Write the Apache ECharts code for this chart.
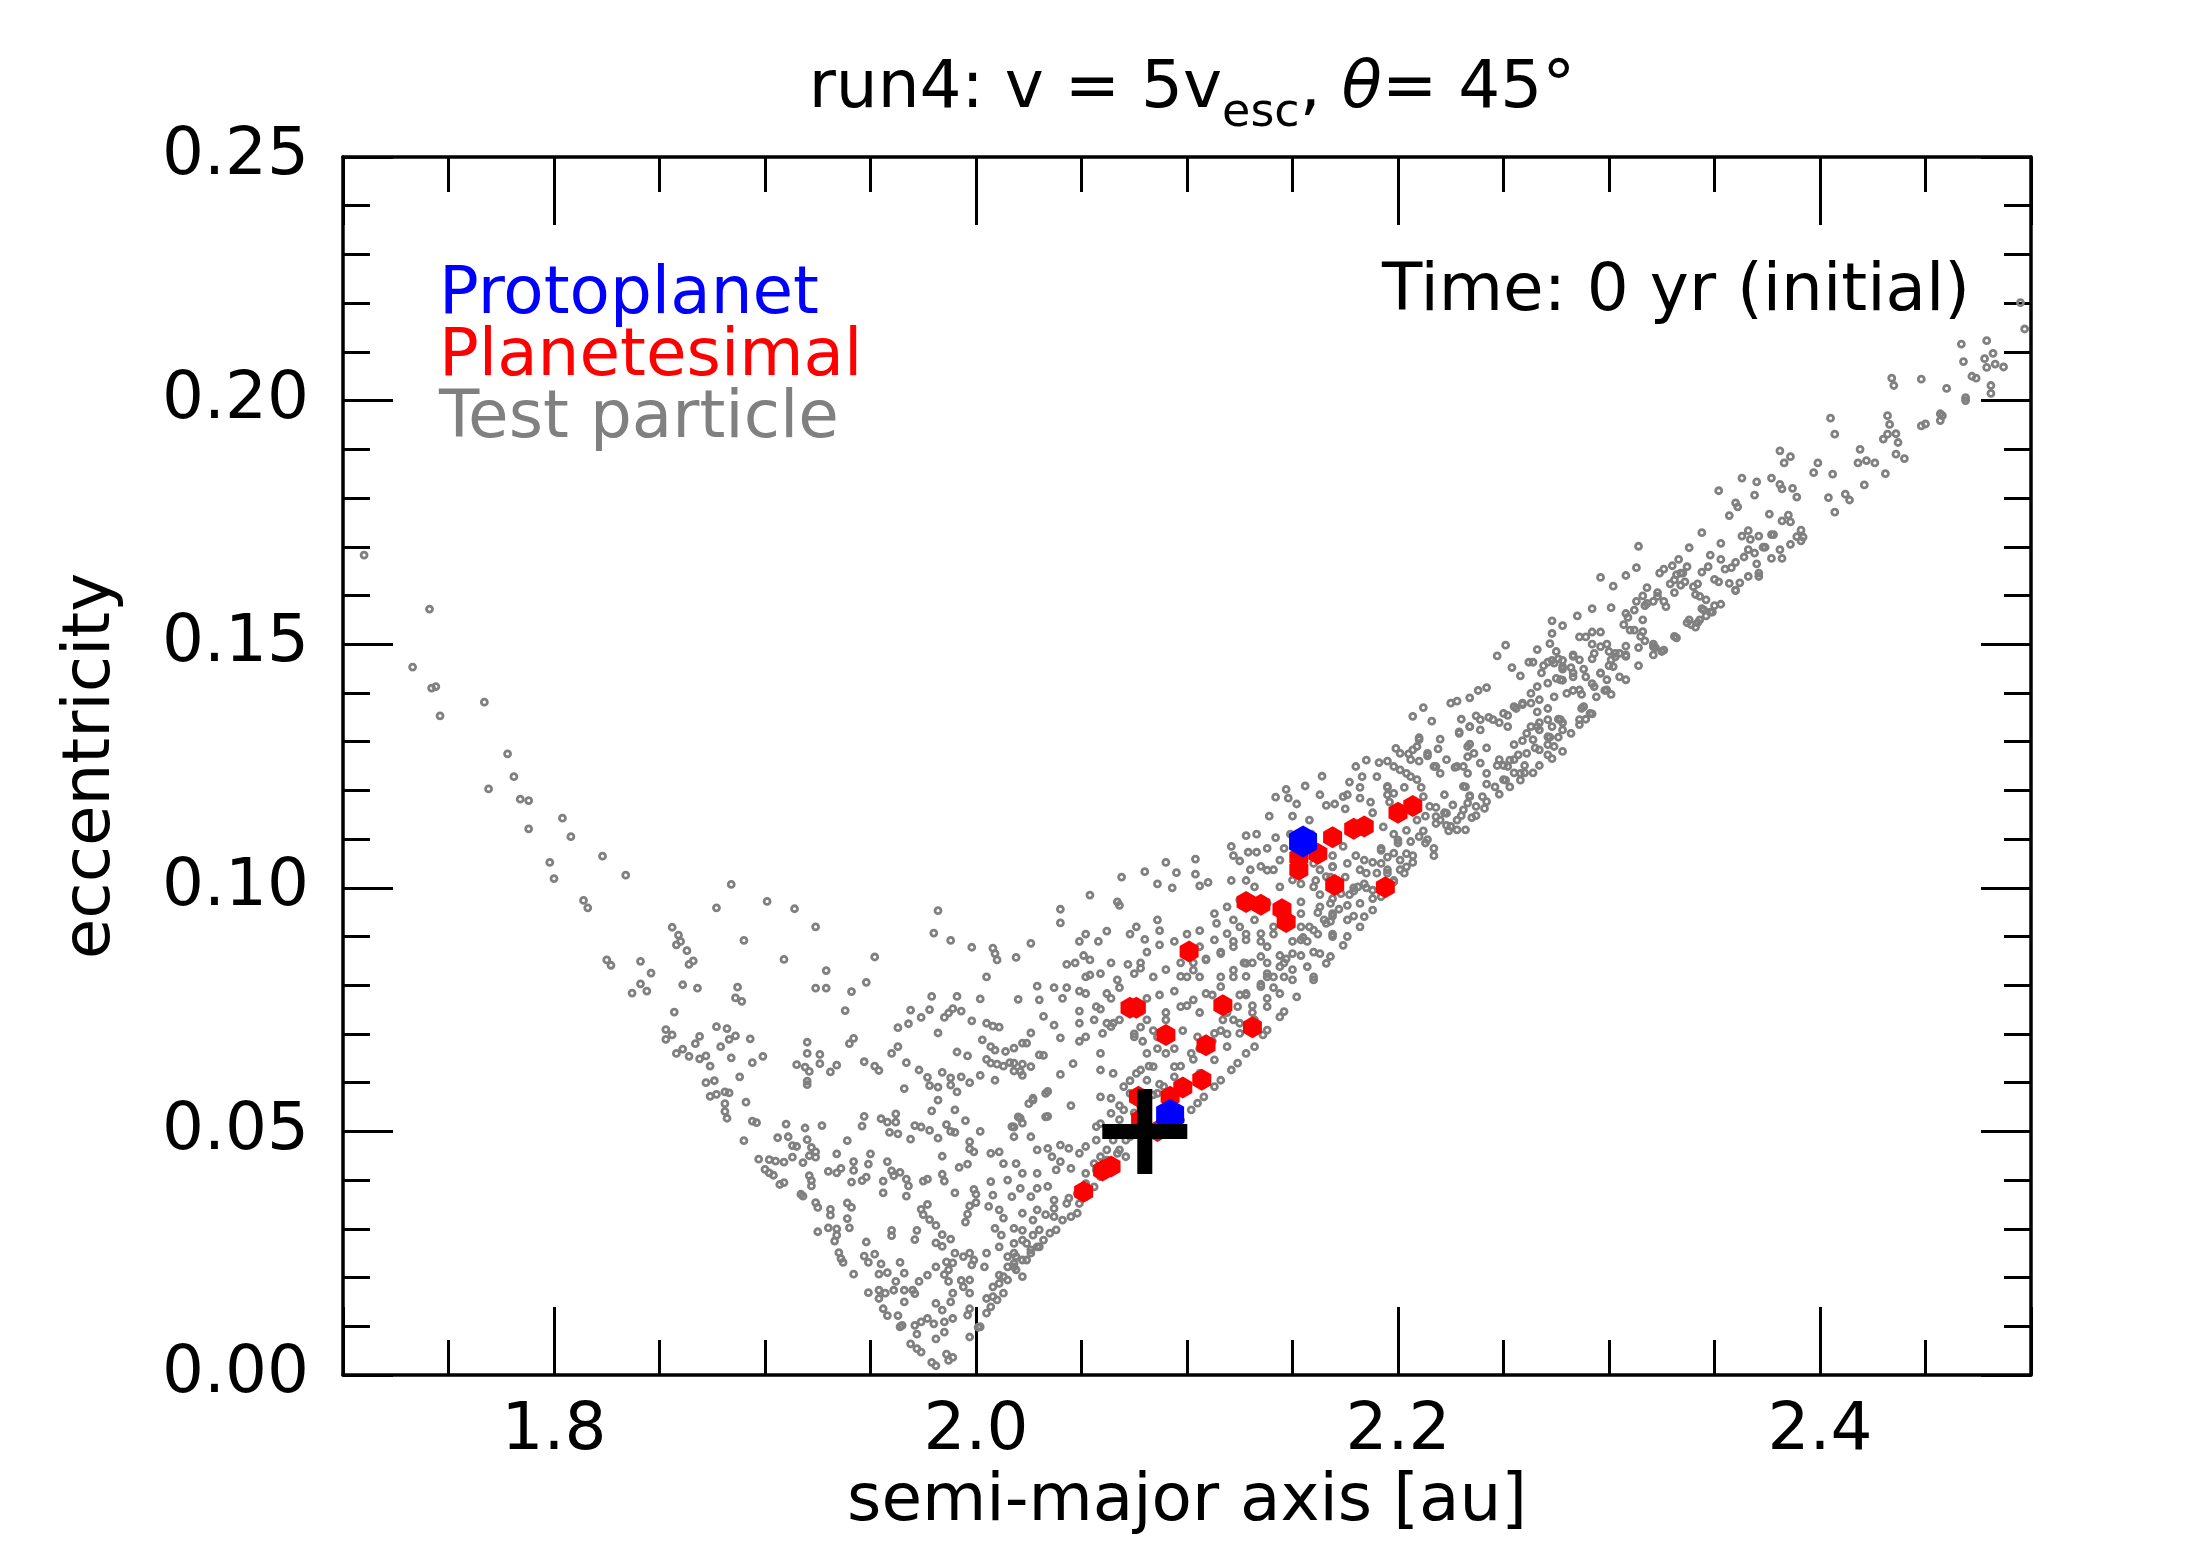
<!DOCTYPE html>
<html>
<head>
<meta charset="utf-8">
<title>run4 eccentricity vs semi-major axis</title>
<script src="https://cdn.jsdelivr.net/npm/echarts@6.0.0/dist/echarts.min.js"></script>
<style>
  html, body { margin: 0; padding: 0; background: #fff; }
  #chart { width: 2188px; height: 1563px; }
</style>
</head>
<body>
<div id="chart"></div>
<script>
// values: [semi-major axis (au), eccentricity]
const protoplanet = [[2.155, 0.1095], [2.092, 0.0534]];

const planetesimal = [
  [2.207,0.1168],[2.200,0.1154],[2.184,0.1126],[2.179,0.1121],[2.169,0.1104],[2.162,0.1070],
  [2.153,0.1062],[2.153,0.1037],[2.170,0.1006],[2.194,0.1001],[2.128,0.0971],[2.135,0.0965],
  [2.145,0.0956],[2.147,0.0930],[2.101,0.0869],[2.073,0.0754],[2.076,0.0754],[2.117,0.0759],
  [2.131,0.0714],[2.090,0.0698],[2.109,0.0677],[2.107,0.0606],[2.098,0.0590],[2.092,0.0571],
  [2.077,0.0571],[2.086,0.0501],[2.078,0.0525],[2.064,0.0428],[2.060,0.0420],[2.051,0.0376]
];

// initial target location (black cross)
const target = [[2.080, 0.0500]];

// test particles, split by region of the plot
const testLeftArm = [
  [1.710,0.1683],[1.741,0.1572],[1.733,0.1453],[1.742,0.1410],[1.744,0.1413],[1.746,0.1353],
  [1.767,0.1381],[1.778,0.1275],[1.781,0.1228],[1.769,0.1203],[1.784,0.1182],[1.788,0.1179],
  [1.788,0.1121],[1.804,0.1143],[1.808,0.1105],[1.798,0.1052],[1.800,0.1019],[1.814,0.0974],
  [1.816,0.0959],
  [1.823,0.1065],[1.834,0.1026],[1.884,0.1007],[1.877,0.0959],[1.901,0.0972],[1.914,0.0957],
  [1.924,0.0920],[1.856,0.0919],[1.859,0.0903],[1.860,0.0890],[1.858,0.0883],[1.863,0.0871],
  [1.864,0.0843],[1.866,0.0850],[1.890,0.0892],[1.909,0.0853],[1.952,0.0858],[1.929,0.0830],
  [1.825,0.0852],[1.827,0.0841],[1.841,0.0849],[1.846,0.0825],[1.841,0.0803],[1.837,0.0784],
  [1.844,0.0788],[1.861,0.0801],[1.868,0.0794],[1.887,0.0796],[1.886,0.0774],[1.889,0.0767],
  [1.924,0.0794],[1.929,0.0794],[1.941,0.0787],[1.948,0.0806],[1.938,0.0748],
  [1.857,0.0745],[1.853,0.0709],[1.856,0.0698],[1.853,0.0689],[1.858,0.0660],[1.861,0.0669],
  [1.864,0.0654],[1.869,0.0649],[1.872,0.0655],[1.874,0.0634],[1.867,0.0680],[1.869,0.0695],
  [1.877,0.0715],[1.882,0.0711],[1.879,0.0674],[1.883,0.0689],[1.886,0.0696],[1.893,0.0690],
  [1.884,0.0651],[1.894,0.0641],[1.899,0.0654],[1.888,0.0612],[1.872,0.0600],[1.876,0.0604],
  [1.874,0.0572],[1.877,0.0576],[1.881,0.0581],[1.883,0.0579],[1.881,0.0557],[1.881,0.0541],
  [1.882,0.0527],[1.891,0.0560],[1.894,0.0521],[1.896,0.0518],[1.890,0.0481]
];

const testValley = [
  [1.982,0.0953],[1.980,0.0907],[1.988,0.0892],[1.998,0.0878],[2.008,0.0876],[2.009,0.0865],
  [2.010,0.0852],[2.019,0.0857],[2.026,0.0886],[2.005,0.0817],[2.029,0.0798],[2.030,0.0770],
  [2.002,0.0772],[2.020,0.0771],[1.979,0.0777],[1.991,0.0777],
  [1.969,0.0749],[1.974,0.0734],[1.978,0.0750],[1.985,0.0734],[1.987,0.0743],[1.989,0.0752],
  [1.993,0.0747],[1.998,0.0727],[1.982,0.0702],[1.963,0.0713],[1.968,0.0721],[2.005,0.0722],
  [2.008,0.0716],[2.011,0.0714],[2.032,0.0736],
  [1.920,0.0683],[1.920,0.0660],[1.915,0.0637],[1.919,0.0632],[1.921,0.0623],[1.920,0.0603],
  [1.920,0.0596],[1.926,0.0658],[1.926,0.0639],[1.931,0.0622],[1.934,0.0636],[1.940,0.0680],
  [1.942,0.0691],[1.947,0.0643],[1.952,0.0634],[1.954,0.0625],[1.960,0.0660],[1.963,0.0674],
  [1.967,0.0641],[1.973,0.0626],[1.977,0.0611],[1.978,0.0594],[1.982,0.0591],[1.984,0.0621],
  [1.988,0.0610],[1.988,0.0595],[1.991,0.0581],[1.993,0.0612],[1.997,0.0600],[2.002,0.0615],
  [2.009,0.0605],[1.991,0.0663],[1.996,0.0655],[2.003,0.0688],[2.007,0.0674],[2.009,0.0667],
  [2.005,0.0648],[2.007,0.0640],[2.010,0.0638],[2.013,0.0634],[2.014,0.0664],[2.018,0.0671],
  [2.018,0.0640],[2.018,0.0624],[2.022,0.0615],[2.022,0.0638],[2.026,0.0633],[2.024,0.0681],
  [2.026,0.0702],[2.030,0.0657],
  [1.966,0.0588],[1.982,0.0564],[1.979,0.0542],[1.990,0.0544],[1.995,0.0522],[1.947,0.0531],
  [1.946,0.0511],[1.955,0.0526],[1.958,0.0519],[1.962,0.0536],[1.963,0.0495],[1.969,0.0484],
  [1.971,0.0512],[1.974,0.0509],[1.978,0.0502],[1.982,0.0486],[1.986,0.0514],[1.988,0.0500],
  [1.990,0.0498],[1.997,0.0479],[2.002,0.0500],[1.997,0.0464],[1.984,0.0449],[1.992,0.0426],
  [1.996,0.0433],[1.999,0.0458],[1.959,0.0498],[1.962,0.0519],
  [2.020,0.0530],[2.025,0.0557],[2.027,0.0564],[2.033,0.0530],[2.033,0.0578],
  [1.910,0.0515],[1.906,0.0487],[1.911,0.0489],[1.919,0.0507],[1.920,0.0483],[1.915,0.0469],
  [1.913,0.0471],[1.927,0.0512],[1.939,0.0481],[1.922,0.0467],[1.924,0.0458],[1.921,0.0450],
  [1.924,0.0447],[1.918,0.0436],[1.913,0.0447],[1.897,0.0443],[1.902,0.0442],[1.905,0.0439],
  [1.909,0.0437],[1.900,0.0422],[1.902,0.0415],[1.904,0.0410],[1.907,0.0391],[1.909,0.0395],
  [1.934,0.0454],[1.942,0.0438],[1.942,0.0420],[1.936,0.0424],[1.934,0.0415],[1.930,0.0418],
  [1.921,0.0409],[1.922,0.0399],[1.922,0.0388],[1.941,0.0396],[1.950,0.0454],[1.949,0.0433],
  [1.948,0.0406],[1.946,0.0399],[1.958,0.0438],[1.960,0.0419],[1.961,0.0409],[1.964,0.0416],
  [1.967,0.0402],[1.968,0.0388],[1.956,0.0398],[1.956,0.0374],[1.967,0.0367],[1.975,0.0398],
  [1.977,0.0402],[1.984,0.0412],[1.985,0.0398],[1.990,0.0374],[1.917,0.0371],[1.918,0.0367],
  [1.924,0.0354],[1.925,0.0344],[1.931,0.0340],[1.931,0.0328],[1.939,0.0353],[1.941,0.0344],
  [1.939,0.0321],[1.925,0.0294],[1.930,0.0302],[1.934,0.0300],[1.940,0.0302],[1.934,0.0287],
  [1.933,0.0275],[1.935,0.0251],[1.936,0.0239],[1.937,0.0231],[1.942,0.0207],[1.948,0.0273],
  [1.947,0.0244],[1.952,0.0248],[1.949,0.0231],[1.955,0.0228],[1.954,0.0207],[1.958,0.0210],
  [1.964,0.0231],[1.966,0.0209],[1.960,0.0297],[1.960,0.0286],[1.972,0.0297],[1.971,0.0278],
  [1.974,0.0340],[1.977,0.0350],[1.975,0.0329],[1.978,0.0319],[1.981,0.0307],[1.984,0.0288],
  [1.981,0.0271],[1.984,0.0264],[1.988,0.0279],[1.999,0.0381],[2.000,0.0371],[2.000,0.0354],
  [1.997,0.0347],[1.996,0.0330],[1.995,0.0314],
  [1.990,0.0250],[1.994,0.0243],[1.997,0.0250],[1.999,0.0236],[1.998,0.0226],[1.989,0.0230],
  [1.986,0.0232],[1.987,0.0216],[1.985,0.0206],[1.987,0.0192],[1.993,0.0194],[1.997,0.0195],
  [1.994,0.0181],[1.997,0.0168],[1.989,0.0168],[1.988,0.0150],[1.981,0.0147],[1.984,0.0133],
  [1.989,0.0116],[1.985,0.0109],[1.980,0.0105],[1.977,0.0116],[1.974,0.0109],[1.971,0.0102],
  [1.972,0.0084],[1.981,0.0074],[1.985,0.0088],[1.997,0.0136],[1.996,0.0123],[1.997,0.0078],
  [2.001,0.0098],[1.969,0.0064],[1.972,0.0054],[1.974,0.0047],[1.979,0.0026],[1.981,0.0019],
  [1.986,0.0043],[1.989,0.0036],[1.987,0.0030],[1.964,0.0099],[1.965,0.0102],
  [1.949,0.0169],[1.954,0.0174],[1.954,0.0157],[1.957,0.0168],[1.961,0.0174],[1.962,0.0192],
  [1.966,0.0174],[1.966,0.0150],[1.970,0.0174],[1.971,0.0167],[1.973,0.0192],[1.977,0.0205],
  [1.981,0.0222],[1.956,0.0136],[1.958,0.0122],[1.963,0.0122]
];

const testBandLow = [
  [2.002,0.0099],[2.005,0.0127],[2.007,0.0140],[2.010,0.0154],[2.005,0.0157],[2.008,0.0181],
  [2.013,0.0202],[2.015,0.0195],[2.019,0.0216],[2.022,0.0202],[2.018,0.0229],[2.022,0.0236],
  [2.026,0.0250],[2.029,0.0263],[2.032,0.0277],[2.035,0.0291],[2.038,0.0298],[2.041,0.0318],
  [2.045,0.0325],[2.048,0.0332],[2.049,0.0352],[2.052,0.0366],[2.056,0.0386],[2.059,0.0407],
  [2.052,0.0414],[2.056,0.0434],[2.059,0.0448],[2.049,0.0455],[2.052,0.0469],[2.057,0.0482],
  [2.062,0.0462],[2.068,0.0462],[2.071,0.0448],[2.065,0.0482],[2.073,0.0489],
  [2.017,0.0510],[2.022,0.0517],[2.018,0.0489],[2.026,0.0489],[2.007,0.0455],[2.011,0.0458],
  [2.013,0.0434],[2.019,0.0434],[2.029,0.0462],[2.034,0.0465],[2.040,0.0472],[2.044,0.0465],
  [2.036,0.0448],[2.040,0.0438],[2.038,0.0421],[2.045,0.0424],[2.022,0.0414],[2.029,0.0414],
  [2.007,0.0397],[2.015,0.0400],[2.021,0.0383],[2.029,0.0383],[2.034,0.0387],[2.008,0.0369],
  [2.017,0.0366],[2.026,0.0366],[2.037,0.0359],[2.044,0.0363],[2.006,0.0346],[2.011,0.0339],
  [2.022,0.0332],[2.029,0.0339],[2.037,0.0342],[2.013,0.0322],[2.027,0.0318],[2.033,0.0329],
  [2.009,0.0301],[2.018,0.0301],[2.022,0.0297],[2.027,0.0287],[2.012,0.0287],[2.011,0.0263],
  [2.018,0.0270],[2.022,0.0277],[2.026,0.0257],[2.030,0.0263],[2.005,0.0250],[2.018,0.0250],
  [2.015,0.0243],[2.024,0.0236],[2.004,0.0222],[2.011,0.0205],[2.018,0.0222],[2.013,0.0168],
  [2.030,0.0298],[2.037,0.0325],[2.043,0.0352],[2.048,0.0373],[2.052,0.0393],[2.057,0.0421],
  [2.062,0.0441],[2.067,0.0455],[2.024,0.0270],[2.019,0.0243],[2.015,0.0222],[2.011,0.0188],
  [2.008,0.0161],
  [2.027,0.0568],[2.034,0.0582],[2.034,0.0531],[2.018,0.0509],[2.021,0.0527],[2.022,0.0681],
  [2.032,0.0656],[2.021,0.0623],[2.016,0.0641],
  [2.045,0.0553],[2.064,0.0568],[2.059,0.0516],[2.068,0.0553],[2.073,0.0604],[2.075,0.0575],
  [2.078,0.0626],
  [2.112,0.0685],[2.103,0.0648],[2.094,0.0612],[2.084,0.0575],[2.075,0.0538],[2.116,0.0707],
  [2.106,0.0670],[2.097,0.0634],[2.087,0.0597],[2.078,0.0560],[2.068,0.0524],
  [2.082,0.0634],[2.086,0.0670],[2.079,0.0685],[2.078,0.0714],[2.075,0.0700],[2.084,0.0707],
  [2.094,0.0670],[2.098,0.0707],[2.090,0.0744],[2.100,0.0758],[2.106,0.0744],[2.112,0.0780],
  [2.106,0.0817],[2.100,0.0817],[2.094,0.0788],[2.087,0.0780],[2.081,0.0773],[2.084,0.0817],
  [2.090,0.0832],[2.097,0.0846],[2.103,0.0846],[2.109,0.0854],[2.116,0.0817],[2.122,0.0817],
  [2.125,0.0780],[2.116,0.0868],[2.122,0.0890],[2.128,0.0905],[2.135,0.0890],[2.141,0.0905],
  [2.144,0.0861],[2.138,0.0846],[2.131,0.0846],[2.127,0.0846],[2.135,0.0802],[2.141,0.0817],
  [2.122,0.0934],[2.114,0.0927],[2.106,0.0912],[2.100,0.0905],[2.094,0.0890],[2.087,0.0883],
  [2.081,0.0868],[2.078,0.0846],[2.075,0.0824],
  [2.054,0.0985],[2.040,0.0956],[2.040,0.0928],[2.049,0.0890],[2.052,0.0905],[2.058,0.0890],
  [2.062,0.0911],[2.069,0.1022],[2.080,0.1033],[2.090,0.1052],[2.095,0.1031],[2.104,0.1059],
  [2.104,0.1028],[2.086,0.1008],[2.093,0.1000],[2.106,0.1004],[2.110,0.1011],[2.121,0.1015],
  [2.067,0.0971],[2.068,0.0964],[2.076,0.0920],[2.073,0.0905],[2.080,0.0894],[2.086,0.0934],
  [2.087,0.0912],[2.043,0.0843],[2.047,0.0846],[2.051,0.0861],[2.064,0.0846],[2.072,0.0843],
  [2.078,0.0835],[2.037,0.0795],[2.043,0.0795],[2.049,0.0788],[2.052,0.0817],[2.054,0.0821],
  [2.041,0.0773],[2.049,0.0747],[2.059,0.0751],[2.064,0.0773],[2.068,0.0795],[2.037,0.0718],
  [2.049,0.0722],[2.062,0.0722],[2.040,0.0692],[2.049,0.0685],[2.040,0.0617],[2.046,0.0639],
  [2.059,0.0626],
  [2.054,0.0852],[2.059,0.0824],[2.052,0.0783],[2.057,0.0756],[2.062,0.0783],[2.067,0.0811],
  [2.056,0.0729],[2.060,0.0701],[2.065,0.0722],[2.052,0.0694],[2.059,0.0660],[2.065,0.0619],
  [2.070,0.0592],[2.059,0.0571],[2.064,0.0537],[2.057,0.0510],[2.065,0.0503],[2.071,0.0482]
];

const testBandMid = [
  [2.207,0.1352],[2.212,0.1370],[2.216,0.1342],[2.220,0.1305],[2.219,0.1285],[2.210,0.1308],
  [2.209,0.1290],[2.199,0.1286],[2.205,0.1275],[2.210,0.1260],[2.214,0.1271],[2.218,0.1249],
  [2.195,0.1260],[2.191,0.1257],[2.185,0.1262],[2.180,0.1249],[2.183,0.1228],[2.177,0.1217],
  [2.176,0.1191],[2.182,0.1206],[2.190,0.1228],[2.195,0.1206],[2.201,0.1242],[2.206,0.1228],
  [2.211,0.1206],[2.203,0.1206],[2.222,0.1191],[2.218,0.1165],[2.213,0.1147],[2.212,0.1117],
  [2.218,0.1132],[2.224,0.1117],
  [2.164,0.1229],[2.156,0.1209],[2.147,0.1202],[2.148,0.1184],[2.142,0.1186],[2.152,0.1172],
  [2.139,0.1147],[2.150,0.1147],[2.158,0.1139],[2.163,0.1191],[2.166,0.1169],[2.170,0.1172],
  [2.174,0.1187],[2.175,0.1162],[2.182,0.1184],[2.187,0.1176],[2.188,0.1154],[2.196,0.1176],
  [2.195,0.1191],
  [2.128,0.1107],[2.133,0.1110],[2.142,0.1103],[2.121,0.1085],[2.125,0.1055],[2.122,0.1066],
  [2.129,0.1073],[2.133,0.1073],[2.138,0.1081],[2.146,0.1081],[2.149,0.1110],[2.159,0.1110],
  [2.180,0.1066],[2.174,0.1085],[2.169,0.1066],[2.169,0.1044],[2.175,0.1022],[2.168,0.1022],
  [2.163,0.1037],[2.161,0.1015],[2.154,0.1008],[2.141,0.1037],[2.135,0.1044],[2.130,0.1037],
  [2.128,0.1015],
  [2.192,0.1081],[2.200,0.1092],[2.206,0.1095],[2.213,0.1092],[2.217,0.1066],[2.207,0.1066],
  [2.195,0.1063],[2.201,0.1037],[2.190,0.1030],[2.184,0.1008],[2.179,0.1000],[2.177,0.0986],
  [2.172,0.0956],[2.168,0.0931],[2.162,0.0949],[2.154,0.0971],[2.163,0.0986],[2.158,0.0920],
  [2.155,0.0898],
  [2.122,0.0729],[2.131,0.0758],[2.141,0.0795],[2.150,0.0832],[2.160,0.0868],[2.169,0.0905],
  [2.179,0.0942],[2.188,0.0978],[2.198,0.1015],[2.207,0.1052],[2.217,0.1081],
  [2.119,0.0744],[2.128,0.0780],[2.138,0.0817],[2.147,0.0854],[2.157,0.0890],[2.166,0.0927],
  [2.176,0.0964],[2.185,0.1000],[2.195,0.1037],[2.204,0.1070],[2.214,0.1099],[2.223,0.1128],
  [2.170,0.1110],[2.193,0.1125],[2.209,0.1139],[2.222,0.1154],[2.198,0.1110],[2.182,0.1037],
  [2.188,0.1052],[2.169,0.0978],[2.179,0.0993],[2.154,0.0920],[2.150,0.0890],[2.162,0.0905],
  [2.169,0.0942],[2.146,0.0846],[2.154,0.0861],[2.138,0.0773],[2.131,0.0744],[2.146,0.0817],
  [2.125,0.0722],[2.119,0.0700]
];

// extra particles in the densest part of the band near the planetesimals
const testBandCore = [
  [2.102,0.0544],[2.108,0.0571],[2.116,0.0605],[2.124,0.0640],[2.132,0.0674],[2.138,0.0708],
  [2.146,0.0746],[2.152,0.0776],[2.160,0.0811],[2.166,0.0845],[2.174,0.0882],[2.182,0.0920],
  [2.188,0.0954],[2.196,0.0995],[2.203,0.1030],
  [2.094,0.0551],[2.100,0.0592],[2.106,0.0619],[2.113,0.0647],[2.119,0.0674],[2.125,0.0701],
  [2.132,0.0729],[2.138,0.0756],[2.144,0.0783],[2.150,0.0811],[2.157,0.0838],[2.163,0.0865],
  [2.169,0.0900],[2.176,0.0934],[2.182,0.0968],[2.188,0.0995],[2.195,0.1030],[2.201,0.1057],
  [2.089,0.0592],[2.094,0.0633],[2.102,0.0660],[2.105,0.0694],[2.113,0.0701],[2.117,0.0729],
  [2.124,0.0756],[2.128,0.0783],[2.135,0.0797],[2.138,0.0824],[2.144,0.0838],[2.150,0.0865],
  [2.154,0.0893],[2.160,0.0913],[2.165,0.0934],[2.168,0.0968],[2.173,0.0988],[2.181,0.1002],
  [2.185,0.1030],[2.192,0.1050],[2.198,0.1071],
  [2.097,0.0818],[2.103,0.0831],[2.109,0.0852],[2.116,0.0865],[2.122,0.0879],[2.128,0.0893],
  [2.135,0.0906],[2.141,0.0920],[2.147,0.0934],[2.154,0.0947],[2.122,0.0831],[2.128,0.0845],
  [2.135,0.0859],[2.116,0.0797],[2.109,0.0783],[2.103,0.0770],[2.097,0.0756],[2.090,0.0729],
  [2.128,0.0818],[2.138,0.0879],[2.132,0.0934],[2.125,0.0920],[2.119,0.0906],[2.113,0.0893],
  [2.106,0.0879],[2.138,0.0968],[2.144,0.1002],[2.150,0.1016],[2.132,0.1002],[2.125,0.0975],
  [2.119,0.0961],[2.113,0.0947],[2.160,0.1002],[2.166,0.1023],[2.138,0.1036],[2.144,0.1057],
  [2.081,0.0729],[2.086,0.0694],[2.081,0.0660],[2.076,0.0619],[2.081,0.0605],[2.086,0.0578],
  [2.073,0.0578],[2.078,0.0551],[2.070,0.0544],[2.084,0.0633],[2.090,0.0660],[2.075,0.0694],
  [2.068,0.0729],[2.064,0.0715],
  [2.160,0.1050],[2.169,0.1043],[2.176,0.1050],[2.184,0.1057],[2.192,0.1077],[2.200,0.1098],
  [2.204,0.1118],[2.163,0.0961],[2.169,0.0947],
  [2.097,0.0523],[2.113,0.0592],[2.128,0.0660],[2.144,0.0735],[2.160,0.0817],[2.176,0.0900],
  [2.192,0.0982],[2.204,0.1043],[2.105,0.0558],[2.121,0.0626],[2.136,0.0698],[2.168,0.0859],
  [2.184,0.0941],[2.198,0.1012]
];

const testBandHigh = [
  [2.495,0.2201],[2.497,0.2147],[2.467,0.2116],[2.479,0.2123],[2.468,0.2080],[2.478,0.2086],
  [2.482,0.2097],[2.479,0.2068],[2.483,0.2075],[2.487,0.2069],[2.434,0.2046],[2.435,0.2031],
  [2.448,0.2044],[2.460,0.2025],[2.472,0.2050],[2.474,0.2046],[2.481,0.2031],[2.481,0.2015],
  [2.469,0.2006],[2.469,0.2000],[2.432,0.1969],[2.433,0.1951],[2.430,0.1921],[2.432,0.1931],
  [2.436,0.1932],[2.437,0.1914],[2.448,0.1948],[2.450,0.1952],[2.457,0.1973],[2.458,0.1969],
  [2.457,0.1959],[2.436,0.1890],[2.440,0.1881],[2.405,0.1964],[2.407,0.1931],[2.381,0.1897],
  [2.386,0.1885],[2.383,0.1872],[2.399,0.1872],[2.397,0.1852],[2.406,0.1849],[2.419,0.1900],
  [2.418,0.1872],[2.422,0.1877],[2.426,0.1872],[2.431,0.1850],[2.421,0.1827],[2.404,0.1801],
  [2.407,0.1771],[2.412,0.1808],[2.414,0.1796],[2.352,0.1815],[2.363,0.1841],[2.370,0.1833],
  [2.369,0.1806],[2.377,0.1841],[2.381,0.1828],[2.382,0.1819],[2.387,0.1820],[2.389,0.1802],
  [2.360,0.1790],[2.361,0.1782],[2.357,0.1764],[2.376,0.1767],[2.382,0.1753],[2.385,0.1765],
  [2.386,0.1751],[2.391,0.1734],[2.392,0.1720],[2.389,0.1721],[2.344,0.1729],[2.353,0.1707],
  [2.348,0.1683],[2.353,0.1674],[2.363,0.1722],[2.366,0.1733],[2.367,0.1715],[2.371,0.1722],
  [2.374,0.1699],[2.377,0.1725],[2.378,0.1725],[2.373,0.1699],
  [2.386,0.1705],[2.381,0.1694],[2.377,0.1676],[2.369,0.1687],[2.366,0.1694],[2.364,0.1679],
  [2.360,0.1668],[2.358,0.1657],[2.355,0.1654],[2.370,0.1665],[2.371,0.1646],[2.366,0.1639],
  [2.362,0.1626],[2.360,0.1611],[2.357,0.1625],[2.352,0.1628],[2.353,0.1582],[2.350,0.1633],
  [2.338,0.1698],[2.333,0.1674],[2.330,0.1661],[2.324,0.1646],[2.326,0.1654],[2.332,0.1643],
  [2.335,0.1646],[2.336,0.1628],[2.329,0.1624],[2.334,0.1621],[2.331,0.1606],[2.314,0.1701],
  [2.313,0.1657],[2.308,0.1641],[2.302,0.1619],[2.296,0.1637],
  [2.347,0.1659],[2.344,0.1648],[2.342,0.1624],[2.341,0.1602],[2.346,0.1591],[2.350,0.1579],
  [2.344,0.1573],[2.348,0.1566],[2.346,0.1558],[2.342,0.1544],[2.337,0.1544],[2.341,0.1535],
  [2.332,0.1513],
  [2.318,0.1616],[2.323,0.1606],[2.326,0.1588],[2.321,0.1588],[2.316,0.1599],[2.313,0.1588],
  [2.317,0.1579],[2.312,0.1570],[2.309,0.1555],[2.307,0.1540],[2.310,0.1529],[2.316,0.1526],
  [2.317,0.1507],[2.322,0.1493],[2.325,0.1485],[2.321,0.1500],[2.314,0.1493],[2.308,0.1496],
  [2.303,0.1474],[2.300,0.1456],[2.296,0.1441],
  [2.301,0.1575],[2.292,0.1573],[2.285,0.1558],[2.286,0.1515],[2.289,0.1515],[2.292,0.1525],
  [2.296,0.1525],[2.292,0.1500],[2.299,0.1500],[2.300,0.1485],[2.303,0.1481],[2.308,0.1478],
  [2.283,0.1478],[2.278,0.1467],[2.292,0.1470],[2.288,0.1449],[2.283,0.1441],[2.278,0.1449],
  [2.273,0.1467],[2.275,0.1485],[2.282,0.1452],[2.273,0.1548],[2.273,0.1522],[2.272,0.1501],
  [2.278,0.1538],
  [2.247,0.1476],[2.251,0.1498],[2.254,0.1452],[2.258,0.1435],[2.264,0.1463],[2.266,0.1489],
  [2.262,0.1463],[2.269,0.1456],[2.271,0.1463],[2.276,0.1470],[2.268,0.1441],[2.275,0.1430],
  [2.278,0.1426],[2.283,0.1405],[2.287,0.1397],[2.292,0.1419],[2.298,0.1405],[2.287,0.1368],
  [2.289,0.1346],[2.292,0.1357],[2.286,0.1335],
  [2.238,0.1405],[2.242,0.1411],[2.225,0.1379],[2.228,0.1383],[2.234,0.1390],
  [2.243,0.1350],[2.248,0.1339],[2.252,0.1354],[2.256,0.1368],[2.259,0.1376],[2.263,0.1379],
  [2.266,0.1361],[2.271,0.1368],[2.267,0.1339],[2.273,0.1331],[2.276,0.1346],[2.278,0.1324],
  [2.272,0.1309],[2.267,0.1324],[2.263,0.1331],[2.259,0.1302],[2.255,0.1294],[2.265,0.1287],
  [2.271,0.1294],[2.276,0.1309],[2.278,0.1339],
  [2.230,0.1346],[2.234,0.1331],[2.229,0.1320],[2.237,0.1353],[2.239,0.1324],[2.234,0.1295],
  [2.233,0.1269],[2.227,0.1247],[2.231,0.1249],[2.242,0.1287],
  [2.232,0.1207],[2.234,0.1189],[2.233,0.1174],[2.230,0.1148],[2.226,0.1170],[2.225,0.1126],
  [2.228,0.1119],[2.235,0.1144],[2.237,0.1148],
  [2.242,0.1213],[2.247,0.1251],[2.250,0.1251],[2.253,0.1262],[2.257,0.1273],[2.260,0.1251],
  [2.255,0.1236],[2.251,0.1221],[2.246,0.1207],[2.242,0.1177],[2.241,0.1163],[2.248,0.1192],
  [2.253,0.1207],[2.258,0.1221],[2.264,0.1236],[2.267,0.1251],[2.273,0.1265],[2.278,0.1280],
  [2.232,0.1119],[2.260,0.1236],[2.271,0.1273],[2.282,0.1317],[2.301,0.1397],[2.308,0.1427],
  [2.314,0.1456],[2.321,0.1478],[2.339,0.1540],[2.349,0.1566],[2.360,0.1610],[2.371,0.1639],
  [2.382,0.1676],[2.391,0.1712]
];

// extra particles in the upper part of the band
const testBandUpper = [
  [2.274,0.1461],[2.278,0.1454],[2.283,0.1475],[2.286,0.1468],[2.293,0.1481],[2.296,0.1495],
  [2.301,0.1468],[2.305,0.1481],[2.308,0.1475],[2.302,0.1454],[2.296,0.1440],[2.289,0.1433],
  [2.283,0.1433],[2.277,0.1427],[2.271,0.1420],[2.266,0.1413],[2.263,0.1399],[2.267,0.1386],
  [2.274,0.1392],[2.280,0.1399],[2.286,0.1406],[2.293,0.1413],[2.299,0.1427],[2.288,0.1372],
  [2.286,0.1345],[2.291,0.1358],[2.277,0.1345],[2.271,0.1345],[2.266,0.1331],[2.261,0.1317],
  [2.264,0.1304],[2.271,0.1310],[2.274,0.1290],[2.267,0.1283],[2.261,0.1276],[2.255,0.1263],
  [2.252,0.1249],[2.258,0.1235],[2.248,0.1263],[2.245,0.1345],[2.250,0.1358],[2.255,0.1372],
  [2.259,0.1379],[2.252,0.1331],[2.239,0.1345],[2.234,0.1331],[2.229,0.1317],[2.233,0.1290],
  [2.236,0.1276],[2.239,0.1256],[2.233,0.1235],[2.242,0.1235],[2.228,0.1249],[2.223,0.1263],
  [2.220,0.1235],[2.231,0.1208],[2.234,0.1187],[2.237,0.1167],[2.223,0.1153],[2.228,0.1139],
  [2.218,0.1146],[2.215,0.1167],[2.212,0.1187],[2.209,0.1222],[2.206,0.1263],[2.201,0.1276],
  [2.198,0.1249],[2.195,0.1208],[2.198,0.1194],[2.204,0.1235],[2.214,0.1276],[2.217,0.1249],
  [2.210,0.1304],[2.207,0.1283],[2.318,0.1584],[2.323,0.1598],[2.327,0.1577],[2.316,0.1550],
  [2.312,0.1529],[2.308,0.1563],[2.315,0.1516],[2.321,0.1495],[2.326,0.1488],[2.331,0.1516],
  [2.334,0.1646],[2.337,0.1659],[2.331,0.1632],[2.340,0.1618],[2.343,0.1598],[2.345,0.1570],
  [2.338,0.1550],[2.343,0.1550],[2.305,0.1433],[2.299,0.1406],[2.294,0.1392],
  [2.210,0.1105],[2.220,0.1139],[2.231,0.1160],[2.240,0.1187],[2.250,0.1222]
];

const testParticle = [].concat(testLeftArm, testValley, testBandLow, testBandMid,
  testBandCore, testBandHigh, testBandUpper);

const FONT = 'DejaVu Sans';
const HEX = 'path://M0,-100 L86.6,-50 L86.6,50 L0,100 L-86.6,50 L-86.6,-50 Z';
const PLUS = 'path://M-7.5,-42.5 L7.5,-42.5 L7.5,-7.5 L42.5,-7.5 L42.5,7.5 L7.5,7.5 L7.5,42.5 L-7.5,42.5 L-7.5,7.5 L-42.5,7.5 L-42.5,-7.5 L-7.5,-7.5 Z';

function xAxisFor(position, withLabels) {
  return {
    type: 'value', position: position, min: 1.7, max: 2.5, splitNumber: 4,
    axisLine: { show: true, onZero: false, lineStyle: { color: '#000', width: 3.5 } },
    axisTick: { show: true, inside: true, length: 68, lineStyle: { color: '#000', width: 3 } },
    minorTick: { show: true, splitNumber: 4, length: 35, lineStyle: { color: '#000', width: 3 } },
    splitLine: { show: false },
    axisLabel: {
      show: withLabels, margin: 24, color: '#000', fontSize: 66, fontFamily: FONT,
      showMinLabel: false, showMaxLabel: false,
      formatter: v => v.toFixed(1)
    },
    name: withLabels ? 'semi-major axis [au]' : '',
    nameLocation: 'middle', nameGap: 91,
    nameTextStyle: { color: '#000', fontSize: 66, fontFamily: FONT }
  };
}

function yAxisFor(position, withLabels) {
  return {
    type: 'value', position: position, min: 0, max: 0.25, interval: 0.05,
    axisLine: { show: true, onZero: false, lineStyle: { color: '#000', width: 3.5 } },
    axisTick: { show: true, inside: true, length: 50, lineStyle: { color: '#000', width: 3 } },
    minorTick: { show: true, splitNumber: 5, length: 27, lineStyle: { color: '#000', width: 3 } },
    splitLine: { show: false },
    axisLabel: {
      show: withLabels, margin: 34, color: '#000', fontSize: 66, fontFamily: FONT,
      formatter: v => v.toFixed(2)
    },
    name: withLabels ? 'eccentricity' : '',
    nameLocation: 'middle', nameGap: 218,
    nameTextStyle: { color: '#000', fontSize: 66, fontFamily: FONT }
  };
}

const chart = echarts.init(document.getElementById('chart'), null, { renderer: 'canvas' });

const option = {
  backgroundColor: '#fff',
  animation: false,
  title: {
    text: '{n|run4: v = 5v}{s|esc}{n|, }{it|θ}{n|= 45°}',
    left: 1187, top: 52, textAlign: 'center',
    textStyle: {
      fontWeight: 'normal', fontFamily: FONT, fontSize: 66, color: '#000',
      rich: {
        n: { fontSize: 66, fontFamily: FONT, fontWeight: 'normal', color: '#000', lineHeight: 80, verticalAlign: 'top' },
        it: { fontSize: 66, fontFamily: FONT, fontWeight: 'normal', fontStyle: 'italic', color: '#000', lineHeight: 80, verticalAlign: 'top' },
        s: { fontSize: 46, fontFamily: FONT, fontWeight: 'normal', color: '#000', lineHeight: 80, padding: [22, 0, 0, 0], verticalAlign: 'bottom' }
      }
    }
  },
  legend: {
    orient: 'vertical', left: 428, top: 258,
    itemWidth: 0, itemHeight: 0, itemGap: -4, selectedMode: false,
    textStyle: { fontSize: 66, fontFamily: FONT, lineHeight: 62 },
    data: [
      { name: 'Protoplanet', textStyle: { color: '#0000ff' } },
      { name: 'Planetesimal', textStyle: { color: '#ff0000' } },
      { name: 'Test particle', textStyle: { color: '#808080' } }
    ]
  },
  graphic: [{
    type: 'text', x: 1970, y: 293,
    style: {
      text: 'Time: 0 yr (initial)', font: '66px "DejaVu Sans"', fill: '#000',
      align: 'right', verticalAlign: 'middle', textAlign: 'right', textVerticalAlign: 'middle'
    }
  }],
  grid: { left: 343, right: 157, top: 157, bottom: 188, containLabel: false, outerBoundsMode: 'none' },
  xAxis: [xAxisFor('bottom', true), xAxisFor('top', false)],
  yAxis: [yAxisFor('left', true), yAxisFor('right', false)],
  series: [
    {
      name: 'Test particle', type: 'scatter', data: testParticle,
      symbol: 'circle', symbolSize: 6,
      itemStyle: { color: 'rgba(0,0,0,0)', borderColor: '#808080', borderWidth: 2.8, opacity: 1 },
      emphasis: { disabled: true }, silent: true
    },
    {
      name: 'Planetesimal', type: 'scatter', data: planetesimal,
      symbol: HEX, symbolSize: [19, 22],
      itemStyle: { color: '#ff0000', opacity: 1 }, emphasis: { disabled: true }, silent: true
    },
    {
      name: 'Protoplanet', type: 'scatter', data: protoplanet,
      symbol: HEX, symbolSize: [28, 32],
      itemStyle: { color: '#0000ff', opacity: 1 }, emphasis: { disabled: true }, silent: true
    },
    {
      name: 'Target', type: 'scatter', data: target,
      symbol: PLUS, symbolSize: 85,
      itemStyle: { color: '#000', opacity: 1 }, emphasis: { disabled: true }, silent: true
    }
  ]
};

chart.setOption(option);
window.onresize = chart.resize;
</script>
</body>
</html>
